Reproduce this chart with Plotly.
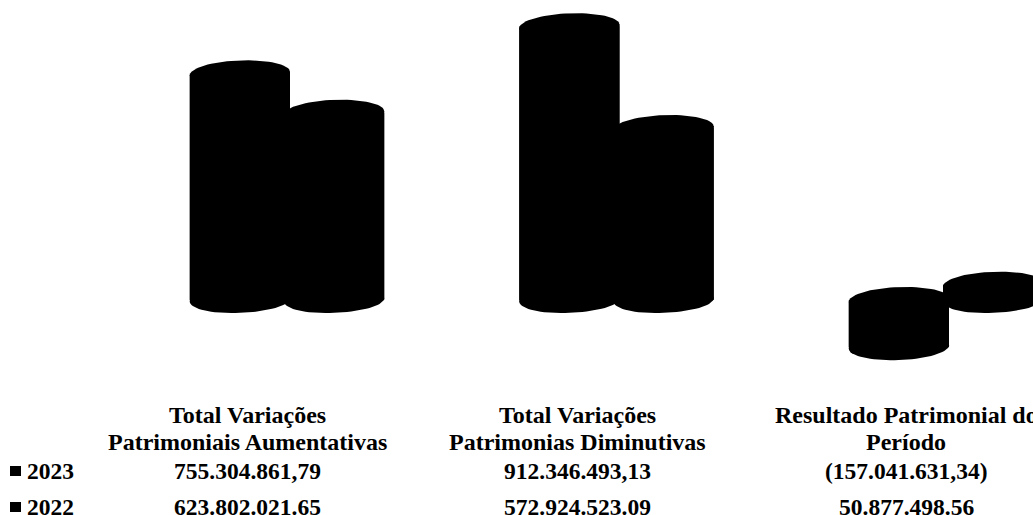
import numpy as np
import plotly.graph_objects as go

category_lines = [["Total Variações", "Patrimoniais Aumentativas"],
                  ["Total Variações", "Patrimonias Diminutivas"],
                  ["Resultado Patrimonial do", "Período"]]
series_names = ["2023", "2022"]
values_2023 = [755.30486179, 912.34649313, -157.04163134]
values_2022 = [623.80202165, 572.92452309, 50.87749856]
labels_2023 = ["755.304.861,79", "912.346.493,13", "(157.041.631,34)"]
labels_2022 = ["623.802.021.65", "572.924.523.09", "50.877.498.56"]

W, H = 1033, 515
BLACK = "#000000"
FONT = dict(family="Liberation Serif", size=23.5, color=BLACK)
HEAD_FONT = dict(family="Liberation Serif", size=24, color=BLACK)
XR = [-0.871, 2.264]
YR = [-716.67, 1000]
half_w = 0.152
offsets = [-0.143, 0.143]
ry = 43.3
skew = 0.45 * ry / half_w * 0.30


def cap(xc, y0):
    t = np.linspace(0, 2 * np.pi, 73)
    dx = half_w * np.cos(t)
    return xc + dx, y0 + ry * np.sin(t) + skew * dx


def solid(x, y):
    return go.Scatter(x=x, y=y, mode="lines", fill="toself", fillcolor=BLACK,
                      line=dict(width=0, color=BLACK), hoverinfo="skip", showlegend=False)


fig = go.Figure()
x_pos = list(range(len(category_lines)))
for name, vals, off in zip(series_names, [values_2023, values_2022], offsets):
    fig.add_trace(go.Bar(x=[p + off for p in x_pos], y=vals, width=2 * half_w,
                         name=name, marker=dict(color=BLACK, line=dict(width=0)),
                         showlegend=False))
    for p, v in zip(x_pos, vals):
        xc = p + off
        for y0 in (0, v):
            fig.add_trace(solid(*cap(xc, y0)))
        lean = skew * half_w
        fig.add_trace(solid([xc - half_w, xc - half_w, xc + half_w, xc + half_w],
                            [-lean, v - lean, v + lean, lean]))


def py(px):
    return 1 - px / H


def label(x, xref, row, text, anchor="center", font=FONT):
    return dict(x=x, xref=xref, y=py(row), yref="paper", text="<b>" + text + "</b>",
                showarrow=False, xanchor=anchor, yanchor="middle", font=font)


ann = []
text_x = [-0.119, 0.883, 1.879]
for tx, lines, a, b in zip(text_x, category_lines, labels_2023, labels_2022):
    ann.append(label(tx, "x", 415, lines[0], font=HEAD_FONT))
    ann.append(label(tx, "x", 442, lines[1], font=HEAD_FONT))
    ann.append(label(tx, "x", 471, a))
    ann.append(label(tx, "x", 507, b))

shapes = []
for name, row in zip(series_names, (471, 507)):
    ann.append(label(25 / W, "paper", row, name, "left"))
    shapes.append(dict(type="rect", xref="paper", yref="paper", x0=10 / W, x1=21 / W,
                       y0=py(row + 5), y1=py(row - 5), fillcolor=BLACK, line=dict(width=0)))

fig.update_layout(
    width=W, height=H, margin=dict(l=0, r=0, t=0, b=0),
    paper_bgcolor="white", plot_bgcolor="white",
    barmode="overlay", showlegend=False,
    xaxis=dict(range=XR, visible=False, fixedrange=True),
    yaxis=dict(range=YR, visible=False, fixedrange=True),
    annotations=ann, shapes=shapes,
)
fig.write_html("out.html", config={"displayModeBar": False},
               post_script="document.body.style.margin='0';")
